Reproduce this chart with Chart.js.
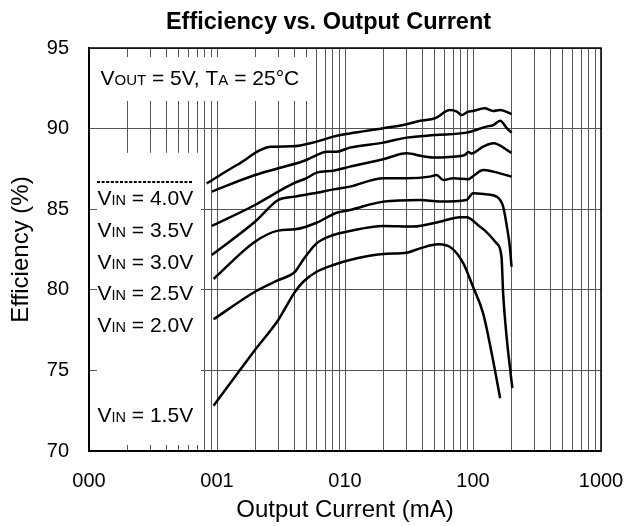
<!DOCTYPE html>
<html><head><meta charset="utf-8">
<script src="https://cdn.jsdelivr.net/npm/chart.js@4.4.0/dist/chart.umd.min.js"></script>
<style>html,body{margin:0;padding:0;background:#fff}#wrap{width:624px;height:526px;position:relative}</style>
</head><body><div id="wrap"><canvas id="c" width="624" height="526"></canvas></div>
<script>
const FONT = "'Liberation Sans', Arial, Helvetica, sans-serif";

// Axis ticks
const xTickValues = [0.1, 1, 10, 100, 1000];
const xTickLabels = ['000', '001', '010', '100', '1000'];
const yMin = 70, yMax = 95, yStep = 5;

// Series (output current in mA, efficiency in %)
const cur45 = [0.83, 1.43, 2.67, 3.83, 6.0, 8.1, 10.9, 19.9, 30.3, 38.6, 50.5, 66, 74.8, 81.6, 91.7, 100, 123, 144, 163, 200];
const eff45 = [86.6, 87.74, 88.88, 88.9, 89.19, 89.5, 89.7, 90.02, 90.27, 90.49, 90.64, 91.15, 91.05, 90.84, 91.05, 91.09, 91.26, 91.09, 91.15, 90.9];

const cur40 = [0.91, 1.98, 3.01, 5.0, 6.0, 7.2, 8.6, 10.9, 19.9, 30.3, 50.5, 89, 127, 144, 163, 184, 200];
const eff40 = [86.09, 87.12, 87.54, 88.05, 88.36, 88.57, 88.57, 88.82, 89.13, 89.44, 89.6, 89.75, 90.12, 90.22, 90.49, 90.02, 89.75];

const cur35 = [0.91, 1.98, 3.01, 4.07, 5.0, 6.0, 8.1, 10.9, 19.9, 30.3, 39.6, 50.5, 70, 86, 92, 97, 120, 144, 200];
const eff35 = [83.96, 85.26, 86.09, 86.65, 86.92, 87.27, 87.39, 87.64, 88.1, 88.47, 88.3, 88.2, 88.26, 88.35, 88.55, 88.45, 88.88, 89.09, 88.5];

const cur30 = [0.91, 1.98, 3.01, 4.07, 6.0, 8.1, 10.9, 19.9, 30.3, 46, 52, 58.5, 70, 91.7, 103, 120, 144, 200];
const eff30 = [82.16, 84.22, 85.57, 85.78, 86.02, 86.23, 86.4, 86.92, 86.92, 87.02, 87.12, 86.81, 86.92, 86.86, 87.12, 87.43, 87.33, 87.02];

const cur25 = [0.94, 1.98, 3.01, 4.07, 6.0, 8.6, 10.9, 19.9, 38.6, 55, 89, 100, 127, 153, 172, 184, 194, 200];
const eff25 = [80.67, 82.98, 83.67, 83.75, 84.16, 84.78, 84.95, 85.47, 85.57, 85.47, 85.57, 85.99, 85.92, 85.78, 85.16, 83.92, 82.67, 81.43];

const cur20 = [0.94, 1.98, 3.01, 4.07, 4.7, 6.0, 8.1, 10.9, 19.9, 34, 55, 79, 89, 113, 123, 153, 167, 172, 181, 190, 203];
const eff20 = [78.17, 79.88, 80.6, 81.12, 81.85, 82.88, 83.4, 83.65, 83.96, 83.92, 84.22, 84.5, 84.5, 83.92, 83.7, 82.88, 82.05, 79.78, 77.5, 75.85, 73.9];

const cur15 = [0.94, 1.98, 3.01, 4.07, 4.72, 6.0, 8.1, 10.9, 19.9, 30.3, 38.6, 53.7, 68.5, 84, 100, 120, 140, 163];
const eff15 = [72.81, 76.27, 78.13, 79.88, 80.5, 81.12, 81.54, 81.85, 82.22, 82.3, 82.57, 82.82, 82.57, 81.64, 80.19, 78.54, 76.06, 73.27];

const seriesNames = ['VIN = 4.5V', 'VIN = 4.0V', 'VIN = 3.5V', 'VIN = 3.0V', 'VIN = 2.5V', 'VIN = 2.0V', 'VIN = 1.5V'];
const seriesCur = [cur45, cur40, cur35, cur30, cur25, cur20, cur15];
const seriesEff = [eff45, eff40, eff35, eff30, eff25, eff20, eff15];

// Curve labels (main, subscript, rest)
const vinLabels = [['V', 'IN', ' = 4.0V'], ['V', 'IN', ' = 3.5V'], ['V', 'IN', ' = 3.0V'], ['V', 'IN', ' = 2.5V'], ['V', 'IN', ' = 2.0V'], ['V', 'IN', ' = 1.5V']];
const vinBaselines = [205, 237, 269, 300, 332, 422];

const datasets = seriesNames.map((n, i) => ({
  label: n,
  data: seriesCur[i].map((x, j) => ({x: x, y: seriesEff[i][j]})),
  borderColor: '#000',
  borderWidth: 2.5,
  pointRadius: 0,
  fill: false,
  tension: 0.35,
  cubicInterpolationMode: 'monotone'
}));

function drawRich(ctx, x, y, parts) {
  let cx = x;
  parts.forEach(([t, size]) => {
    ctx.font = size + 'px ' + FONT;
    ctx.fillText(t, cx, y);
    cx += ctx.measureText(t).width;
  });
}

const overlay = {
  id: 'overlay',
  beforeDatasetsDraw(chart) {
    const {ctx, chartArea: a} = chart;
    const xs = chart.scales.x, ys = chart.scales.y;
    ctx.save();
    ctx.fillStyle = '#fff';
    const tx1 = xs.getPixelForValue(5.5);
    ctx.fillRect(a.left + 1, a.top + 9, tx1 - a.left - 1, 44);
    const lx0 = a.left + 8, lx1 = xs.getPixelForValue(0.75);
    const ly0 = ys.getPixelForValue(88.5);
    ctx.fillRect(lx0, ly0, lx1 - lx0, a.bottom - 6 - ly0);
    ctx.restore();
  },
  afterDraw(chart) {
    const {ctx, chartArea: a} = chart;
    ctx.save();
    ctx.strokeStyle = '#000';
    ctx.lineWidth = 1.5;
    ctx.strokeRect(a.left, a.top, a.right - a.left, a.bottom - a.top);
    ctx.fillStyle = '#000';
    ctx.textBaseline = 'alphabetic';
    ctx.font = 'bold 23.5px ' + FONT;
    ctx.textAlign = 'center';
    ctx.fillText('Efficiency vs. Output Current', 328.5, 29);
    ctx.font = '24px ' + FONT;
    ctx.fillText('Output Current (mA)', (a.left + a.right) / 2, 517);
    ctx.save();
    ctx.translate(27.5, (a.top + a.bottom) / 2);
    ctx.rotate(-Math.PI / 2);
    ctx.fillText('Efficiency (%)', 0, 0);
    ctx.restore();
    ctx.textAlign = 'left';
    drawRich(ctx, 100.5, 85, [['V', 21], ['OUT', 15], [' = 5V, T', 21], ['A', 15], [' = 25°C', 21]]);
    ctx.strokeStyle = '#000';
    ctx.lineWidth = 2;
    ctx.setLineDash([3, 1.6]);
    ctx.beginPath();
    ctx.moveTo(97, 182);
    ctx.lineTo(193, 182);
    ctx.stroke();
    ctx.setLineDash([]);
    vinLabels.forEach((p, i) => {
      drawRich(ctx, 97.5, vinBaselines[i], [[p[0], 21], [p[1], 14.5], [p[2], 21]]);
    });
    ctx.restore();
  }
};

new Chart(document.getElementById('c'), {
  type: 'line',
  data: {datasets},
  plugins: [overlay],
  options: {
    responsive: false,
    animation: false,
    devicePixelRatio: 1,
    layout: {padding: {top: 48, right: 0, left: 0, bottom: 0}},
    plugins: {legend: {display: false}, tooltip: {enabled: false}, title: {display: false}},
    scales: {
      x: {
        type: 'logarithmic',
        min: 0.1, max: 1000,
        afterFit(s) { s.height = 75; s.paddingRight = 23; s.paddingLeft = 0; },
        afterBuildTicks(s) {
          const t = [];
          [0.1, 1, 10, 100].forEach(d => { for (let k = 1; k <= 9; k++) t.push({value: +(d * k).toPrecision(6)}); });
          t.push({value: 1000});
          s.ticks = t;
        },
        grid: {color: '#555', lineWidth: 1, drawTicks: false, tickLength: 0},
        border: {display: true, color: '#000', width: 1.5},
        ticks: {
          autoSkip: false, maxRotation: 0, minRotation: 0, padding: 18,
          color: '#000', font: {family: FONT, size: 20},
          callback(v) {
            const i = xTickValues.findIndex(t => Math.abs(t - v) / t < 1e-6);
            return i >= 0 ? xTickLabels[i] : '';
          }
        }
      },
      y: {
        type: 'linear',
        min: yMin, max: yMax,
        afterFit(s) { s.width = 89; s.paddingTop = 0; s.paddingBottom = 0; },
        grid: {color: '#555', lineWidth: 1, drawTicks: false, tickLength: 0},
        border: {display: true, color: '#000', width: 1.5},
        ticks: {stepSize: yStep, padding: 20, color: '#000', font: {family: FONT, size: 20}}
      }
    }
  }
});
</script>
</body></html>
